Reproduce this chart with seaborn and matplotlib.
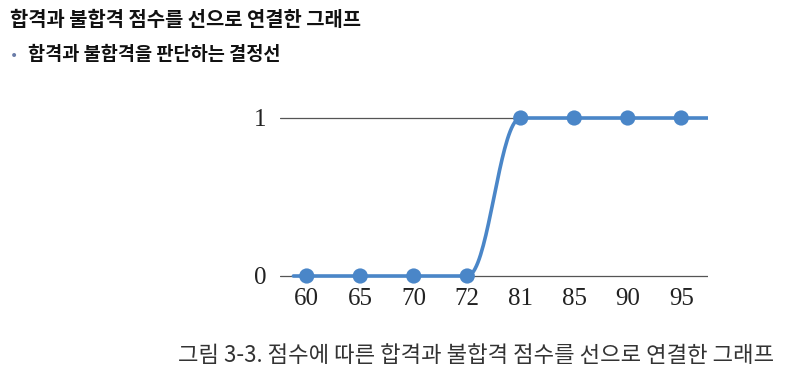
import numpy as np
import pandas as pd
import matplotlib
matplotlib.use("Agg")
import matplotlib.pyplot as plt
import seaborn as sns

# ---- data ----
scores = ["60", "65", "70", "72", "81", "85", "90", "95"]
passed = [0, 0, 0, 0, 1, 1, 1, 1]
y_ticks = [0, 1]
title = "합격과 불합격 점수를 선으로 연결한 그래프"
subtitle = "합격과 불합격을 판단하는 결정선"
caption = "그림 3-3. 점수에 따른 합격과 불합격 점수를 선으로 연결한 그래프"

sns.set_theme(style="white")
plt.rcParams['font.family'] = ['Noto Sans CJK KR', 'DejaVu Sans']

W, H = 792, 390
fig = plt.figure(figsize=(W / 100, H / 100), dpi=100)
# axes position in pixels: left 280, right 708, top 100, bottom 285
ax = fig.add_axes([280 / W, (H - 285) / H, (708 - 280) / W, 185 / H])

color = "#4a86c8"
xs = np.arange(len(scores))
df = pd.DataFrame({"idx": xs, "passed": passed})

# smoothed line (cubic Bezier with horizontal tangents between points)
def smooth(x, y, a=0.4, n=40):
    px, py = [x[0] - 0.25], [y[0]]
    t = np.linspace(0, 1, n)
    for i in range(len(x) - 1):
        x0, x1 = x[i], x[i + 1]
        y0, y1 = y[i], y[i + 1]
        c1, c2 = x0 + a, x1 - a
        bx = (1 - t) ** 3 * x0 + 3 * (1 - t) ** 2 * t * c1 + 3 * (1 - t) * t ** 2 * c2 + t ** 3 * x1
        by = (1 - t) ** 3 * y0 + 3 * (1 - t) ** 2 * t * y0 + 3 * (1 - t) * t ** 2 * y1 + t ** 3 * y1
        px.extend(bx); py.extend(by)
    px.append(x[-1] + 0.5); py.append(y[-1])
    return np.array(px), np.array(py)

sx, sy = smooth(xs.astype(float), np.array(passed, dtype=float))
curve = pd.DataFrame({"x": sx, "y": sy})

for yv in y_ticks:
    ax.axhline(yv, color="#555555", lw=0.9, zorder=1)

sns.lineplot(data=curve, x="x", y="y", ax=ax, color=color, lw=2.6, sort=False,
             estimator=None, zorder=3)
sns.scatterplot(data=df, x="idx", y="passed", ax=ax, color=color, s=120,
                edgecolor="none", zorder=4, clip_on=False)

ax.set_xlim(-0.5, len(scores) - 0.5)
ax.set_ylim(-9 / 158, 1 + 18 / 158)
ax.set_xticks(xs)
ax.set_xticklabels(scores)
ax.set_yticks(y_ticks)
ax.set_yticklabels([str(v) for v in y_ticks])
ax.set_xlabel("")
ax.set_ylabel("")
for s in ax.spines.values():
    s.set_visible(False)
ax.tick_params(axis="both", length=0, labelsize=18, colors="#222222")
ax.tick_params(axis="x", pad=2)
ax.tick_params(axis="y", pad=10)
for lab in ax.get_xticklabels() + ax.get_yticklabels():
    lab.set_fontfamily("Liberation Serif")

fig.text(10 / W, 1 - 20 / H, title, fontsize=14.3, fontweight="bold",
         va="center", ha="left", color="#111111")
fig.text(10 / W, 1 - 56 / H, "•", fontsize=10, va="center", ha="left",
         color="#6a7ca8", family=["DejaVu Sans"])
fig.text(28 / W, 1 - 55 / H, subtitle, fontsize=13.4, fontweight="bold",
         va="center", ha="left", color="#111111")
fig.text(178 / W, 1 - 355 / H, caption, fontsize=16, va="center", ha="left",
         color="#333333")

fig.savefig("out.png", dpi=100)
